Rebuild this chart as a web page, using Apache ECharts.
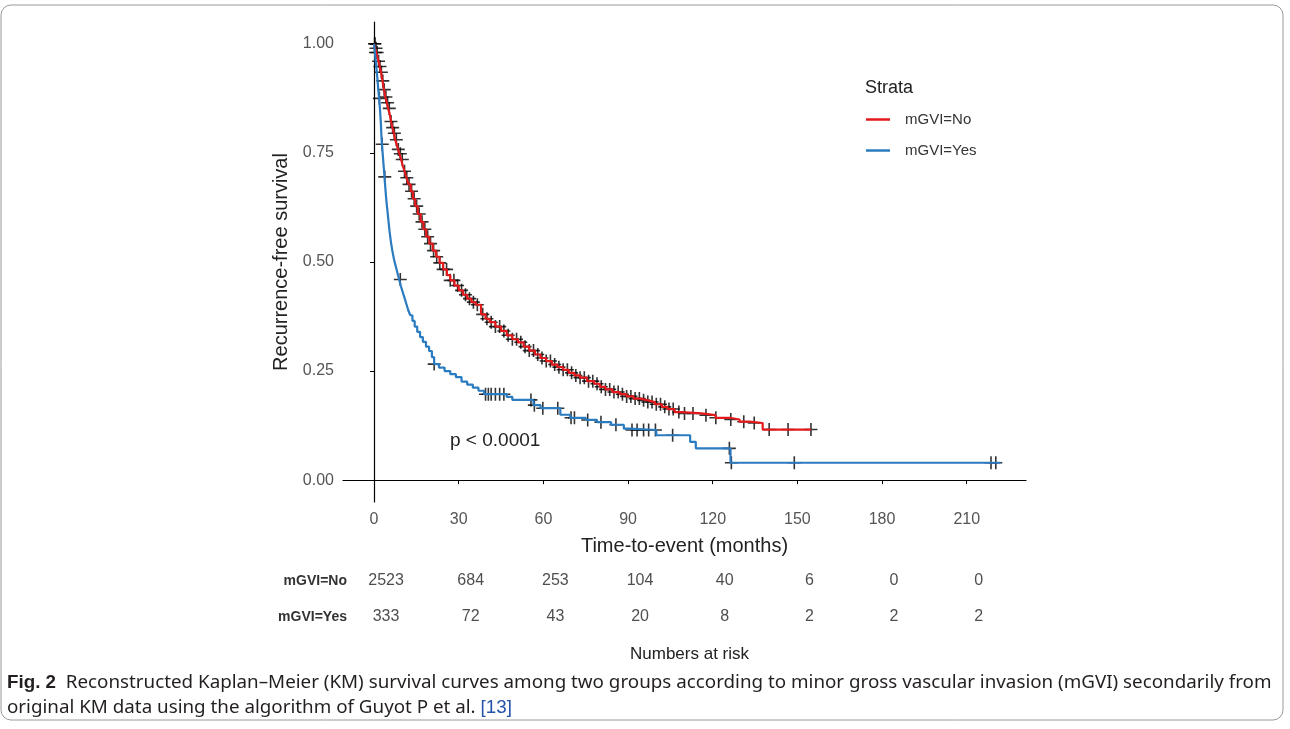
<!DOCTYPE html>
<html>
<head>
<meta charset="utf-8">
<title>KM curves by mGVI</title>
<script src="https://cdn.jsdelivr.net/npm/echarts@6/dist/echarts.min.js"></script>
<style>
html,body{margin:0;padding:0;background:#fff;}
#main{width:1290px;height:729px;}
</style>
</head>
<body>
<div id="main"></div>
<script>
var groups = ['mGVI=No', 'mGVI=Yes'];
var timeTicks = [0, 30, 60, 90, 120, 150, 180, 210];
var survTicks = [0, 0.25, 0.5, 0.75, 1];

// mGVI=No step curve (time in months, survival)
var noTime = [0, 0.4, 0.8, 1.2, 1.6, 2, 2.5, 3, 3.5, 4, 4.5, 5, 5.5, 6, 6.5, 7, 7.5, 8, 8.5, 9, 9.6, 10.2, 10.8, 11.5, 12.2, 13, 13.8, 14.6, 15.5, 16.5, 17.5, 18.5, 19.6, 20.8, 22, 23.2, 24.5, 25.8, 27, 28.5, 30, 31.5, 33, 34.5, 36, 37.9, 39.5, 41, 43, 45, 47, 49, 51, 53, 55, 57, 59, 61, 63, 65, 67, 69, 71, 73, 75.5, 78, 80, 82, 84.5, 87, 89.5, 92, 94.5, 97, 99.5, 102, 104, 106.5, 109, 116, 121, 126, 129.5, 133, 137.7, 154.8];
var noSurv = [1, 0.99, 0.98, 0.97, 0.96, 0.948, 0.935, 0.915, 0.895, 0.878, 0.865, 0.852, 0.84, 0.822, 0.808, 0.795, 0.78, 0.77, 0.758, 0.748, 0.735, 0.72, 0.708, 0.693, 0.678, 0.662, 0.645, 0.628, 0.61, 0.592, 0.575, 0.558, 0.542, 0.526, 0.512, 0.498, 0.483, 0.47, 0.458, 0.446, 0.435, 0.425, 0.416, 0.408, 0.402, 0.38, 0.37, 0.362, 0.352, 0.342, 0.332, 0.323, 0.316, 0.306, 0.297, 0.288, 0.28, 0.273, 0.265, 0.259, 0.253, 0.246, 0.24, 0.235, 0.227, 0.221, 0.214, 0.208, 0.202, 0.197, 0.192, 0.187, 0.183, 0.179, 0.174, 0.168, 0.163, 0.156, 0.153, 0.149, 0.143, 0.139, 0.134, 0.131, 0.116, 0.116];
var noCensor = [0.3, 0.7, 1.1, 1.6, 2.1, 2.6, 3.1, 3.6, 4.2, 4.8, 5.4, 6.0, 6.6, 7.2, 7.9, 8.6, 9.3, 10.0, 10.8, 11.6, 12.4, 13.3, 14.2, 15.1, 16.0, 17.0, 18.0, 19.0, 20.0, 21.1, 22.2, 23.3, 24.5, 25.7, 27.0, 28.3, 29.6, 31.0, 32.4, 33.8, 35.2, 36.6, 38.5, 40.0, 41.5, 43.0, 44.5, 46.0, 47.5, 49.0, 50.5, 52.0, 53.5, 55.0, 56.5, 58.0, 59.5, 61, 62.5, 64, 65.5, 67, 68.5, 70, 71.5, 73, 74.5, 76, 77.5, 79, 80.5, 82, 83.5, 85, 86.5, 88, 89.5, 91, 92.5, 94, 95.5, 97, 98.5, 100, 101.5, 103, 104.5, 106, 108, 110, 113, 117.6, 121.1, 126.4, 131, 134.7, 140, 146.7, 154.8];

// mGVI=Yes step curve
var yesTime = [0, 0.3, 0.6, 0.9, 1.2, 1.5, 1.8, 2.1, 2.4, 2.6, 2.8, 3.1, 3.4, 3.7, 4.0, 4.3, 4.7, 5.1, 5.5, 6.0, 6.5, 7.1, 7.7, 8.3, 8.9, 9.5, 10.1, 10.7, 11.4, 12.1, 12.8, 13.6, 14.4, 15.3, 16.3, 17.3, 18.4, 19.5, 20.5, 21.3, 23, 25, 27, 29, 31, 33, 35, 37, 39, 47, 49, 56.5, 59, 66, 69.5, 75, 79, 84, 88.5, 90.5, 100, 112, 114, 126.3, 222];
var yesSurv = [1, 0.98, 0.96, 0.94, 0.92, 0.895, 0.875, 0.85, 0.82, 0.79, 0.77, 0.745, 0.72, 0.695, 0.67, 0.645, 0.62, 0.595, 0.57, 0.545, 0.525, 0.505, 0.49, 0.475, 0.46, 0.445, 0.432, 0.42, 0.405, 0.39, 0.378, 0.365, 0.352, 0.34, 0.328, 0.317, 0.306, 0.296, 0.282, 0.266, 0.258, 0.25, 0.243, 0.236, 0.226, 0.219, 0.212, 0.205, 0.197, 0.191, 0.184, 0.172, 0.165, 0.15, 0.143, 0.138, 0.133, 0.127, 0.118, 0.115, 0.103, 0.088, 0.073, 0.04, 0.04];
var yesCensor = [0.2, 0.5, 1.9, 2.9, 3.8, 9.3, 21.3, 39.5, 40.5, 41.5, 43, 44.5, 46, 55.6, 56.8, 59.8, 65.1, 69.8, 71, 75.7, 80.4, 85.7, 91.4, 93.2, 95.5, 97.3, 99.7, 105.8, 125.9, 126.6, 148.9, 218.6, 220.3];

// numbers at risk at each time tick
var riskNo = [2523, 684, 253, 104, 40, 6, 0, 0];
var riskYes = [333, 72, 43, 20, 8, 2, 2, 2];

var colors = ['#E3191C', '#2B7BC0'];

function pairs(t, s) {
    return t.map(function (v, i) { return [v, s[i]]; });
}
// survival value of a step curve at time x
function stepAt(t, s, x) {
    var v = s[0];
    for (var i = 0; i < t.length; i++) {
        if (t[i] <= x) v = s[i];
    }
    return v;
}
function censorPts(c, t, s) {
    return c.map(function (x) { return [x, stepAt(t, s, x)]; });
}

var plusMark = 'path://M0,6L12,6M6,0L6,12';
var txt = '#222';
var font = 'Liberation Sans, Arial, sans-serif';

var chart = echarts.init(document.getElementById('main'));

var option = {
    animation: false,
    textStyle: { fontFamily: font },
    grid: [
        { left: 343, top: 22, width: 683, height: 480 },
        { left: 355, top: 563, width: 683, height: 72 }
    ],
    xAxis: [{
        type: 'value', min: -11, max: 231,
        name: 'Time-to-event (months)', nameLocation: 'middle', nameGap: 34,
        nameTextStyle: { fontSize: 20, color: txt },
        axisLine: { lineStyle: { color: '#000', width: 1.2 } },
        axisTick: { customValues: timeTicks, length: 4, lineStyle: { color: '#000' } },
        axisLabel: { customValues: timeTicks, fontSize: 16, color: '#555', margin: 10 },
        splitLine: { show: false }
    }, {
        gridIndex: 1, type: 'value', min: -11, max: 231, show: false
    }],
    yAxis: [{
        type: 'value', min: -0.05, max: 1.05,
        name: 'Recurrence-free survival', nameLocation: 'middle', nameGap: 44,
        nameTextStyle: { fontSize: 20, color: txt },
        axisLine: { show: true, lineStyle: { color: '#000', width: 1.2 } },
        axisTick: { show: true, customValues: survTicks, length: 4, lineStyle: { color: '#000' } },
        axisLabel: {
            customValues: survTicks, fontSize: 16, color: '#555', margin: 9,
            formatter: function (v) { return v.toFixed(2); }
        },
        splitLine: { show: false }
    }, {
        gridIndex: 1, type: 'category', data: ['mGVI=Yes', 'mGVI=No'],
        axisLine: { show: false }, axisTick: { show: false },
        axisLabel: { fontSize: 14, fontWeight: 'bold', color: '#333', margin: 8 }
    }],
    legend: {
        data: groups,
        orient: 'vertical', left: 861, top: 107,
        icon: 'rect', itemWidth: 24, itemHeight: 2.5, itemGap: 16,
        textStyle: { fontSize: 15, color: '#333', padding: [0, 0, 0, 10] }
    },
    series: [{
        name: groups[0], type: 'line', step: 'end', showSymbol: false,
        data: pairs(noTime, noSurv),
        lineStyle: { color: colors[0], width: 2.2 }, itemStyle: { color: colors[0] }
    }, {
        type: 'scatter', symbol: plusMark, symbolSize: 13,
        data: censorPts(noCensor, noTime, noSurv),
        itemStyle: { color: 'rgba(0,0,0,0)', borderColor: '#000', borderWidth: 1.6 }
    }, {
        name: groups[1], type: 'line', step: 'end', showSymbol: false,
        data: pairs(yesTime, yesSurv),
        lineStyle: { color: colors[1], width: 2.2 }, itemStyle: { color: colors[1] }
    }, {
        type: 'scatter', symbol: plusMark, symbolSize: 13,
        data: censorPts(yesCensor, yesTime, yesSurv),
        itemStyle: { color: 'rgba(0,0,0,0)', borderColor: '#000', borderWidth: 1.6 }
    }, {
        type: 'scatter', xAxisIndex: 1, yAxisIndex: 1, symbolSize: 0,
        data: timeTicks.map(function (t, i) { return [t, groups[0], riskNo[i]]; })
            .concat(timeTicks.map(function (t, i) { return [t, groups[1], riskYes[i]]; })),
        label: {
            show: true, position: 'inside', fontSize: 16, color: txt,
            formatter: function (p) { return p.value[2]; }
        }
    }],
    graphic: [
        { type: 'rect', shape: { x: 1, y: 5, width: 1282, height: 715, r: 10 },
          style: { fill: 'none', stroke: '#9a9a9a', lineWidth: 1 } },
        { type: 'text', left: 865, top: 79,
          style: { text: 'Strata', fontSize: 18, fill: txt, fontFamily: font } },
        { type: 'text', left: 450, top: 431,
          style: { text: 'p < 0.0001', fontSize: 19, fill: txt, fontFamily: font } },
        { type: 'text', left: 630, top: 646,
          style: { text: 'Numbers at risk', fontSize: 17, fill: txt, fontFamily: font } },
        { type: 'text', left: 7, top: 670,
          style: {
              text: '{b|Fig. 2}  Reconstructed Kaplan–Meier (KM) survival curves among two groups according to minor gross vascular invasion (mGVI) secondarily from\noriginal KM data using the algorithm of Guyot P et al. {r|[13]}',
              fontSize: 18.8, lineHeight: 25, fill: '#231f20', fontFamily: 'Noto Sans, sans-serif',
              rich: {
                  b: { fontWeight: 'bold', fontSize: 18.8, fill: '#231f20' },
                  r: { fill: '#2452a8', fontSize: 18.8 }
              }
          } }
    ]
};
chart.setOption(option);
</script>
</body>
</html>
